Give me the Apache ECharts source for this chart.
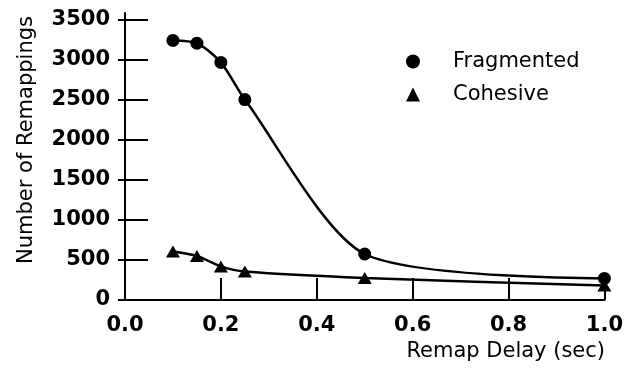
<!DOCTYPE html>
<html>
<head>
<meta charset="utf-8">
<script src="https://cdn.jsdelivr.net/npm/echarts@6/dist/echarts.min.js"></script>
<style>
  html, body { margin: 0; padding: 0; background: #fff; }
  #chart { width: 626px; height: 369px; }
</style>
</head>
<body>
<div id="chart"></div>
<script>
// Remap delay (seconds) and the number of remappings measured at each delay
var delays = [0.1, 0.15, 0.2, 0.25, 0.5, 1.0];
var fragmented = [3245, 3210, 2970, 2505, 575, 270];
var cohesive = [605, 550, 420, 355, 275, 180];

// Axis tick positions
var xTicks = [0, 0.2, 0.4, 0.6, 0.8, 1.0];
var yTicks = [0, 500, 1000, 1500, 2000, 2500, 3000, 3500];

var seriesNames = ['Fragmented', 'Cohesive'];

var FONT = 'DejaVu Sans';
var INK = '#000';

function pairs(xs, ys) {
  return xs.map(function (x, i) { return [x, ys[i]]; });
}

var chart = echarts.init(document.getElementById('chart'), null, { renderer: 'canvas' });

var labelStyle = {
  fontFamily: FONT,
  fontWeight: 'bold',
  fontSize: 21,
  color: INK
};

chart.setOption({
  animation: false,
  backgroundColor: '#fff',
  grid: { left: 125, right: 21, top: 13, bottom: 69 },
  xAxis: {
    type: 'value',
    min: 0,
    max: 1,
    axisLine: { lineStyle: { color: INK, width: 2 } },
    axisTick: {
      inside: true,
      length: 22,
      customValues: xTicks,
      lineStyle: { color: INK, width: 2 }
    },
    axisLabel: Object.assign({
      customValues: xTicks,
      margin: 15,
      formatter: function (v) { return v.toFixed(1); }
    }, labelStyle),
    splitLine: { show: false }
  },
  yAxis: [
    {
      type: 'value',
      min: 0,
      max: 3587.5,
      axisLine: { show: true, lineStyle: { color: INK, width: 2 } },
      axisTick: {
        show: true,
        inside: true,
        length: 23,
        customValues: yTicks,
        lineStyle: { color: INK, width: 2 }
      },
      axisLabel: Object.assign({
        customValues: yTicks,
        margin: 15,
        formatter: function (v) { return String(v); }
      }, labelStyle),
      splitLine: { show: false }
    },
    {
      // short outward stubs of the y ticks
      type: 'value',
      position: 'left',
      min: 0,
      max: 3587.5,
      axisLine: { show: false },
      axisTick: {
        show: true,
        inside: false,
        length: 7,
        customValues: yTicks,
        lineStyle: { color: INK, width: 2 }
      },
      axisLabel: { show: false },
      splitLine: { show: false }
    }
  ],
  legend: {
    orient: 'vertical',
    left: 401,
    top: 46,
    itemWidth: 14,
    itemHeight: 14,
    itemGap: 12,
    selectedMode: false,
    textStyle: {
      fontFamily: FONT,
      fontSize: 21,
      color: INK,
      padding: [0, 0, 0, 28]
    },
    data: [
      { name: seriesNames[0], icon: 'circle' },
      { name: seriesNames[1], icon: 'triangle' }
    ]
  },
  graphic: [
    {
      type: 'text',
      x: 27,
      y: 140,
      rotation: Math.PI / 2,
      silent: true,
      style: {
        text: 'Number of Remappings',
        fontFamily: FONT,
        fontSize: 21,
        fill: INK,
        textAlign: 'center',
        textVerticalAlign: 'middle'
      }
    },
    {
      type: 'text',
      x: 605,
      y: 352,
      silent: true,
      style: {
        text: 'Remap Delay (sec)',
        fontFamily: FONT,
        fontSize: 21,
        fill: INK,
        textAlign: 'right',
        textVerticalAlign: 'middle'
      }
    }
  ],
  series: [
    {
      name: seriesNames[0],
      type: 'line',
      data: pairs(delays, fragmented),
      smooth: 0.25,
      symbol: 'circle',
      symbolSize: 13,
      itemStyle: { color: INK, borderWidth: 0 },
      lineStyle: { color: INK, width: 2.5 },
      emphasis: { disabled: true },
      clip: false
    },
    {
      name: seriesNames[1],
      type: 'line',
      data: pairs(delays, cohesive),
      smooth: 0.25,
      symbol: 'triangle',
      symbolSize: [14, 12],
      itemStyle: { color: INK, borderWidth: 0 },
      lineStyle: { color: INK, width: 2.5 },
      emphasis: { disabled: true },
      clip: false
    }
  ]
});
</script>
</body>
</html>
